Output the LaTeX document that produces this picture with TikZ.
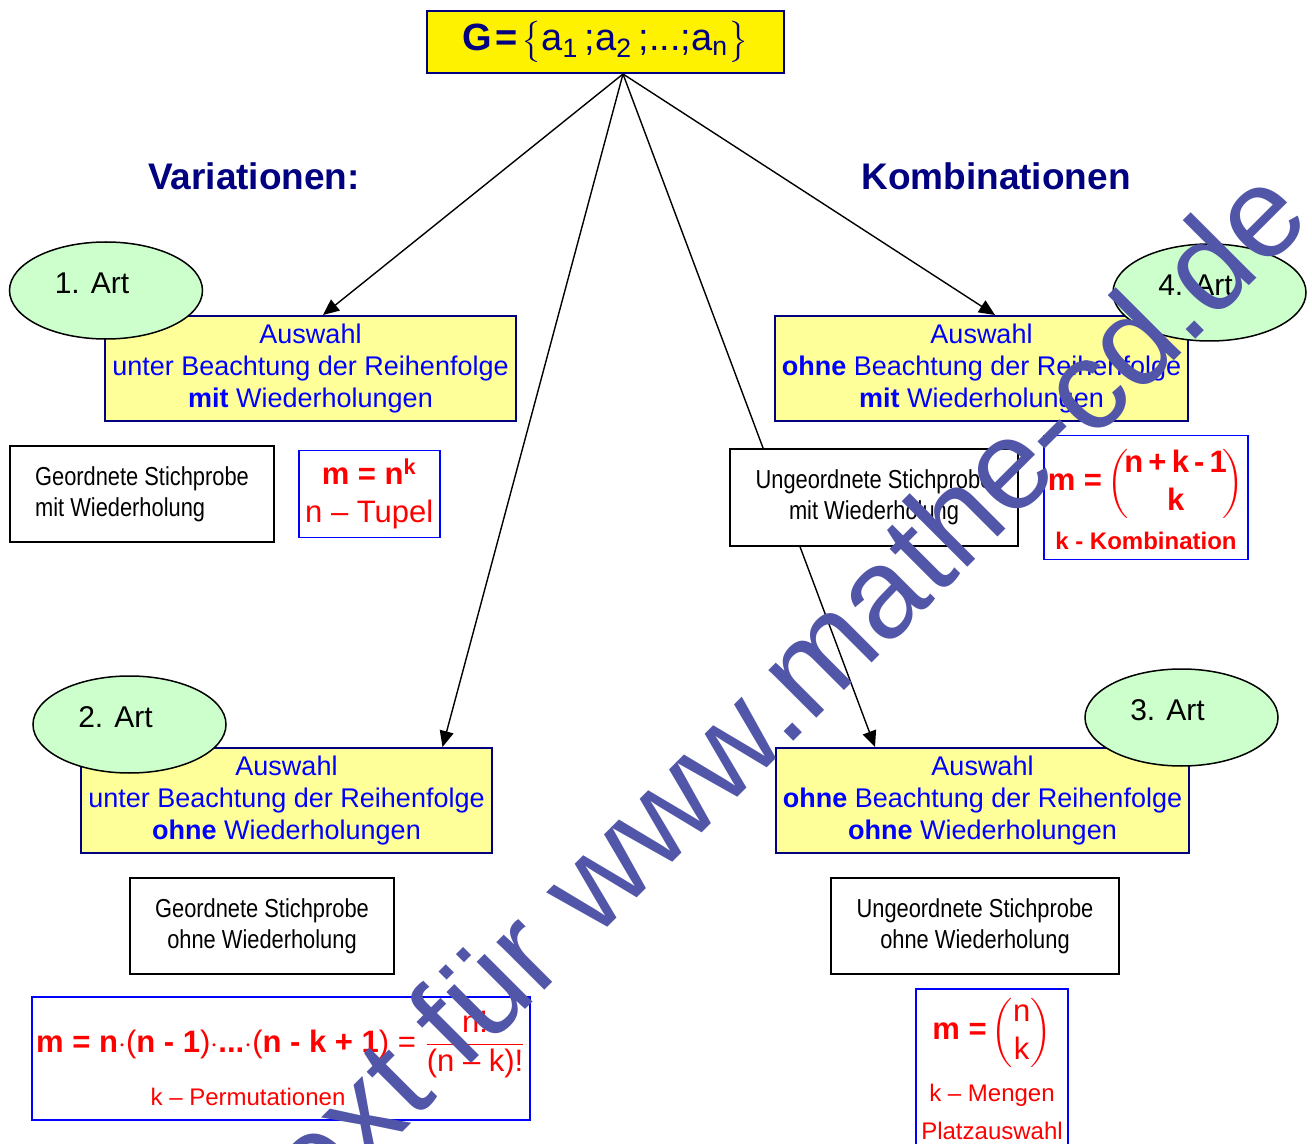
\documentclass[tikz,border=0pt]{standalone}
\usepackage{fontspec}
\setmainfont{Liberation Sans}
\newfontfamily\narrowfont[FakeStretch=0.84]{Liberation Sans}
\usepackage{amsmath}
\usetikzlibrary{arrows.meta,positioning,shapes.geometric}
\definecolor{navy}{RGB}{0,0,128}
\definecolor{paleyel}{RGB}{255,255,153}
\definecolor{mint}{RGB}{204,255,204}
\definecolor{wmark}{RGB}{82,86,168}
\tikzset{auswahl/.style={draw=navy,line width=1pt,fill=paleyel,minimum width=205.5pt,minimum height=52.5pt,text=blue,align=center,font=\fontsize{13.5}{16}\selectfont},
         art/.style={ellipse,draw,line width=0.75pt,fill=mint,minimum width=96.5pt,minimum height=48.5pt,
           label={[font=\fontsize{15}{18}\selectfont,xshift=-7pt,yshift=3.5pt]center:#1}},
         stich/.style={draw,line width=1pt,fill=white,minimum width=132pt,minimum height=48pt,align=center,font=\narrowfont\fontsize{13}{15.5}\selectfont},
         frm/.style={draw=blue,line width=0.75pt,fill=white,text=red,align=center,inner sep=2pt},
         ar/.style={-{Triangle[length=8pt,width=7pt]},line width=0.7pt},
         ttl/.style={text=navy,font=\bfseries\fontsize{18.5}{22}\selectfont}}

\begin{document}
\begin{tikzpicture}[x=0.5pt,y=-0.5pt]
\useasboundingbox (0,0) rectangle (1312,1144);
% Grundmenge
\node[draw=navy,line width=1pt,fill=yellow,minimum width=178.5pt,minimum height=31pt,text=navy,font=\fontsize{19}{24}\selectfont] (G) at (605.5,42)
  {\textbf{G\hspace{1.5pt}=}\hspace{2pt}$\big\{$a\textsubscript{1}\,;a\textsubscript{2}\,;...;a\textsubscript{n}$\big\}$};
\node[ttl] (var) at (254,176) {Variationen:};
\node[ttl] (komb) at (996,176) {Kombinationen};
% die vier Arten
\node[auswahl] (a1) at (310.5,368.5) {Auswahl\\unter Beachtung der Reihenfolge\\\textbf{mit} Wiederholungen};
\node[auswahl] (a4) at (981.5,368.5) {Auswahl\\\textbf{ohne} Beachtung der Reihenfolge\\\textbf{mit} Wiederholungen};
\node[auswahl] (a2) at (286.5,800.5) {Auswahl\\unter Beachtung der Reihenfolge\\\textbf{ohne} Wiederholungen};
\node[auswahl] (a3) at (982.5,800.5) {Auswahl\\\textbf{ohne} Beachtung der Reihenfolge\\\textbf{ohne} Wiederholungen};
\coordinate (src) at ([xshift=8.75pt]G.south);
\draw[ar] (src) -- ([xshift=6.25pt]a1.north);
\draw[ar] (src) -- ([xshift=78pt]a2.north);
\draw[ar] (src) -- ([xshift=-53.75pt]a3.north);
\draw[ar] (src) -- ([xshift=6.75pt]a4.north);
\node[art=1. Art] (e1) at (106,290.5) {};
\node[art=4. Art] (e4) at (1209.5,292.5) {};
\node[art=2. Art] (e2) at (129.5,724.5) {};
\node[art=3. Art] (e3) at (1181.5,717.5) {};
% Stichproben
\node[stich,align=left] (s1) at (142,494) {Geordnete Stichprobe\\mit Wiederholung};
\node[stich] (s2) at (262,926) {Geordnete Stichprobe\\ohne Wiederholung};
\node[stich,minimum width=144pt] (s4) at (874,497.5) {Ungeordnete Stichprobe\\mit Wiederholung};
\node[stich,minimum width=144pt] (s3) at (975,926) {Ungeordnete Stichprobe\\ohne Wiederholung};
% Formeln
\node[frm,right=11.5pt of s1,minimum width=70.5pt,minimum height=43.5pt,font=\fontsize{15.5}{19}\selectfont] (tupel)
  {\textbf{m = n\textsuperscript{k}}\\n -- Tupel};
\node[frm,right=12pt of s4,minimum width=95.5pt,minimum height=62pt] (kombi)
  {\fontsize{15.5}{19}\selectfont\textbf{m =}\,$\left(\kern-2pt\begin{tabular}{@{}c@{}}\textbf{n\,+\,k\,-\,1}\\\textbf{k}\end{tabular}\kern-2pt\right)$\\[4pt]
   \fontsize{12}{14}\selectfont\textbf{k - Kombination}};
\node[frm,minimum width=248pt,minimum height=61.5pt] (perm) at (281,1058.5)
  {\fontsize{15.5}{19}\selectfont\textbf{m = n}$\cdot$(\textbf{n - 1})$\cdot$\textbf{...}$\cdot$(\textbf{n - k + 1}) = $\dfrac{\text{n!}}{\text{(n -- k)!}}$\\[4pt]
   \fontsize{12}{14}\selectfont k -- Permutationen\hspace*{33pt}};
\node[frm,anchor=north,minimum width=76pt,minimum height=86pt] (mbox) at (992,988) {};
\node[anchor=north,text=red,align=center,inner sep=0pt,font=\fontsize{12}{14}\selectfont] (menge) at ([yshift=-3pt]mbox.north)
  {\fontsize{15.5}{19}\selectfont\textbf{m =}\,$\left(\begin{tabular}{@{}c@{}}n\\k\end{tabular}\right)$\\[6pt]
   k -- Mengen\\[5pt]Platzauswahl};
% Wasserzeichen
\begin{scope}
\clip (0,0) rectangle (1312,1144);
\node[rotate=45,anchor=base west,inner sep=0pt,text=wmark,font=\fontsize{64}{64}\selectfont] (wm) at (272,1263) {Text für www.mathe-cd.de};
\end{scope}
\end{tikzpicture}
\end{document}
